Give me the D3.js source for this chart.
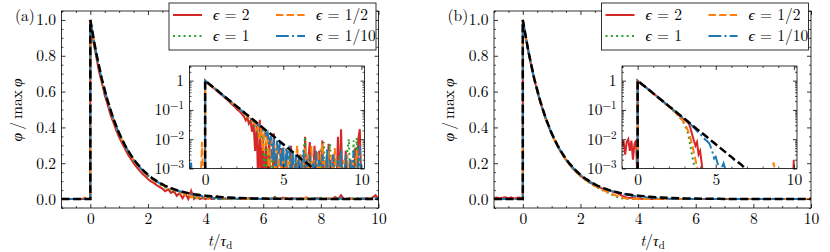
<!DOCTYPE html>
<html>
<head>
<meta charset="utf-8">
<script src="https://cdn.jsdelivr.net/npm/d3@7"></script>
<style>
body { margin: 0; background: #fff; }
</style>
</head>
<body>
<div id="chart"></div>
<script>
// sampling of the simulated curves (values below are phi/max phi in units of 1e-3)
var dt = 0.1;

// legend labels (epsilon values)
var epsLabels = ['2', '1', '1/2', '1/10'];

// panel (a): t = -1.0 ... -0.1
var redA_pre    = [0, 0, 0, 0, 0, 0, 0, 0, 0, 0];
var greenA_pre  = [0, 0, 0, 0, 0, 0, 0, 0, 0, 0];
var orangeA_pre = [0, 0, 0, 0, 0, 0, 0, 0, 8, 0];
var blueA_pre   = [0, 1.6, 0, 0, 0, 0, 0, 0, 0, 0];

// panel (a): t = 0.0 ... 10.0
var redA = [1000, 880, 800, 712, 650, 578, 528, 470, 428, 384,
	345, 312, 282, 250, 226, 200, 180, 160, 142, 128,
	112, 98, 90, 78, 68, 58, 44, 54, 34, 44,
	18, 34, 4, 30, 0, 46, 0, 14, 0, 6,
	0, 10, 0, 0, 16, 0, 3, 0, 0, 5,
	0, 0, 2, 0, 0, 6, 0, 0, 1.5, 0,
	0, 3, 0, 0, 12, 0, 2, 8, 0, 0,
	6, 0, 0, 4, 0, 9, 0, 2, 0, 7,
	0, 0, 3, 0, 0, 12, 0, 22, 0, 0,
	4, 0, 0, 2, 0, 0, 5, 0, 10, 22,
	0];
var greenA = [1000, 895, 810, 732, 660, 598, 540, 488, 440, 400,
	358, 326, 292, 266, 238, 216, 194, 176, 158, 143,
	126, 116, 102, 94, 82, 74, 64, 60, 50, 46,
	38, 34, 26, 24, 14, 20, 8, 14, 0, 10,
	0, 4, 0, 6, 0, 0, 2, 0, 3, 0,
	0, 2, 0, 0, 3, 0, 0, 1.5, 0, 0,
	2, 0, 0, 4, 12, 0, 0, 3, 0, 0,
	0, 2, 0, 0, 5, 0, 8, 0, 0, 3,
	7, 0, 0, 2, 0, 0, 3, 0, 0, 0,
	0, 4, 10, 0, 0, 9, 0, 11, 0, 3,
	0];
var orangeA = [1000, 900, 812, 736, 664, 602, 545, 493, 445, 403,
	362, 330, 296, 270, 242, 219, 197, 179, 160, 146,
	130, 118, 106, 96, 86, 78, 69, 63, 55, 50,
	44, 36, 35, 22, 28, 10, 26, 4, 20, 6,
	16, 0, 12, 3, 9, 0, 7, 0, 5, 0,
	3, 0, 5, 0, 2, 0, 4, 0, 2, 6,
	0, 3, 0, 2, 5, 0, 3, 0, 6, 0,
	2, 0, 4, 0, 3, 7, 0, 2, 0, 4,
	0, 3, 0, 5, 0, 2, 0, 4, 0, 2,
	0, 3, 0, 0, 2, 0, 0, 4, 0, 0,
	0];
var blueA = [1000, 903, 818, 740, 668, 605, 547, 495, 447, 405,
	365, 332, 299, 272, 245, 221, 200, 181, 163, 148,
	133, 120, 109, 98, 89, 80, 72, 65, 59, 53,
	48, 43, 39, 35, 31, 27, 25, 20, 21, 14,
	17, 6, 13, 2, 11, 0, 9, 3, 8, 0,
	7, 0, 5, 2, 6, 0, 4, 0, 3, 0,
	3, 0, 2, 4, 0, 2, 0, 3, 0, 1.5,
	0, 4, 0, 2, 0, 3, 0, 0, 5, 0,
	2, 0, 3, 0, 0, 2, 0, 4, 0, 0,
	3, 0, 0, 2, 0, 4, 0, 0, 2, 6,
	0];

// panel (b): t = -1.0 ... -0.1
var redB_pre    = [6, 9, 3, 8, 10, 4, 9, 2, 7, 9];
var greenB_pre  = [0, 0, 0, 0, 0, 0, 0, 0, 0, 0];
var orangeB_pre = [0, 0, 0, 0, 0, 0, 0, 0, 0, 0];
var blueB_pre   = [0, 0, 0, 0, 0, 0, 0, 0, 0, 0];

// panel (b): t = 0.0 ... 10.0
var redB = [1000, 905, 818, 740, 668, 604, 546, 494, 446, 404,
	364, 330, 297, 269, 243, 219, 198, 179, 161, 146,
	131, 118, 107, 96, 86, 77, 69, 62, 55, 49,
	48, 43, 38, 32, 22, 14, 9, 6, 8, 3,
	4, 1.5, 0.5, 0, 0, 0, 0, 0, 0, 0,
	0, 0, 0, 0, 0, 0, 0, 0, 0, 0,
	0, 0, 0, 0, 0, 0, 0, 0, 0, 0,
	0, 0, 0, 0, 0, 0, 0, 0, 0, 0,
	0, 0, 0, 0, 0, 0, 0, 0, 0, 0,
	0, 0, 0, 0, 0, 0, 0, 0, 0, 0,
	2];
var greenB = [1000, 903, 816, 738, 666, 602, 544, 492, 444, 402,
	362, 328, 295, 267, 241, 217, 196, 176, 158, 143,
	128, 115, 103, 92, 82, 72, 63, 55, 47, 40,
	32, 24, 17, 10, 5, 2.5, 1.4, 0.8, 0, 0,
	0, 0, 0, 0, 0, 0, 0, 0, 0, 0,
	0, 0, 0, 0, 0, 0, 0, 0, 0, 0,
	0, 0, 0, 0, 0, 0, 0, 0, 0, 0,
	0, 0, 0, 0, 0, 0, 0, 0, 0, 0,
	0, 0, 0, 0, 0, 0, 0, 0, 0, 0,
	0, 0, 0, 0, 0, 0, 0, 0, 0, 0,
	0];
var orangeB = [1000, 904, 817, 739, 667, 603, 545, 493, 445, 403,
	363, 329, 296, 268, 242, 218, 197, 177, 159, 144,
	129, 116, 104, 93, 83, 74, 65, 57, 49, 42,
	35, 28, 21, 15, 10, 6, 3.5, 2, 1.2, 0.6,
	0, 0, 0, 0, 0, 0, 0, 0, 0, 0,
	0, 0, 0, 0, 0, 0, 0, 0, 0, 0,
	0, 0, 0, 0, 0, 0, 0, 0, 0, 0,
	0, 0, 0, 0, 0, 0, 0, 0, 0, 0,
	0, 0, 0, 0, 0, 0, 0.6, 1.6, 0.8, 0,
	0, 0, 0, 0, 0, 0, 0, 0, 0, 0,
	0];
var blueB = [1000, 905, 818, 740, 669, 605, 548, 496, 448, 405,
	366, 332, 300, 272, 246, 222, 201, 182, 164, 149,
	134, 121, 110, 99, 90, 81, 73, 66, 60, 54,
	49, 44, 40, 36, 32, 28, 25, 22, 19, 17,
	15, 13, 11.5, 10, 9, 8, 7, 5, 3.5, 2.2,
	2.5, 1.6, 1.2, 0.9, 1.1, 1.5, 1.0, 0.6, 0, 0,
	0, 0, 0, 0, 0, 0, 0, 0, 0, 0,
	0, 0, 0, 0, 0, 0, 0, 0, 0, 0,
	0, 0, 0, 0, 0, 0, 0, 0, 0, 0,
	0, 0, 0, 0, 0, 0, 0, 0, 0, 0,
	0];

// reference exponential decay (black dashed), t = 0.0 ... 10.0 every 0.2
var refStep = 0.2;
var expRef = [1000, 819, 670, 549, 449, 368, 301, 247, 202, 165,
	135, 111, 91, 74, 61, 50, 41, 33, 27, 22,
	18.3, 15, 12.3, 10, 8.2, 6.7, 5.5, 4.5, 3.7, 3.0,
	2.5, 2.0, 1.7, 1.4, 1.1, 0.91, 0.75, 0.61, 0.5, 0.41,
	0.34, 0.27, 0.22, 0.18, 0.15, 0.12, 0.1, 0.08, 0.07, 0.06,
	0.05];

// line styles: red solid, green dotted, orange dashed, blue dash-dot
var styles = [
	{ color: '#d62728', dash: null },
	{ color: '#2ca02c', dash: '2,3.3' },
	{ color: '#ff7f0e', dash: '7.4,3.2' },
	{ color: '#1f77b4', dash: '12.8,3.2,2,3.2' }
];

var serif = '"Latin Modern Roman", "Liberation Serif", serif';
var fs = 15.5;

// build canvas
var width = 830,
	height = 252;

var svg = d3.select('#chart')
	.append('svg')
	.attr('width', width)
	.attr('height', height)
	.attr('font-family', serif);

function toPoints(pre, post) {
	var pts = pre.map((v, i) => [-1 + i * dt, v / 1000]);
	pts.push([0, 0]);
	post.forEach((v, i) => pts.push([i * dt, v / 1000]));
	return pts;
}

function refPoints() {
	var pts = [[-1, 0], [0, 0]];
	expRef.forEach((v, i) => pts.push([i * refStep, v / 1000]));
	return pts;
}

// inward ticks on all four sides
function frameAxes(g, x, y, o) {
	var b = y.range()[0], t = y.range()[1], l = x.range()[0], r = x.range()[1];
	var makers = [
		() => d3.axisBottom(x), () => d3.axisTop(x),
		() => d3.axisLeft(y), () => d3.axisRight(y)
	];
	makers.forEach(function(mk, k) {
		var horiz = k < 2;
		var tr = horiz ? 'translate(0,' + (k == 0 ? b : t) + ')'
			: 'translate(' + (k == 2 ? l : r) + ',0)';
		var fmt = (k == 0) ? o.xFmt : (k == 2) ? o.yFmt : null;
		// minor
		g.append('g').attr('transform', tr)
			.call(mk().tickValues(horiz ? o.xMinor : o.yMinor).tickSizeInner(-2).tickSizeOuter(0).tickFormat(''))
			.call(a => a.select('.domain').remove())
			.selectAll('line').attr('stroke-width', 0.7);
		// major
		var ag = g.append('g').attr('transform', tr)
			.call(mk().tickValues(horiz ? o.xMajor : o.yMajor).tickSizeInner(-4).tickSizeOuter(0)
				.tickPadding(horiz ? 5 : 5.5).tickFormat(fmt ? fmt : ''))
			.call(a => a.select('.domain').remove())
			.attr('font-family', serif).attr('font-size', o.fontSize);
		ag.selectAll('line').attr('stroke-width', 0.8);
		ag.selectAll('text').attr('font-family', serif);
		if (fmt && o.post && !horiz) ag.selectAll('text').each(o.post);
	});
	g.append('rect')
		.attr('x', l).attr('y', t)
		.attr('width', r - l).attr('height', b - t)
		.attr('fill', 'none').attr('stroke', '#000').attr('stroke-width', 0.8);
}

function drawPanel(ox, tag, pres, posts, id) {
	var x = d3.scaleLinear().domain([-1, 10]).range([61.5 + ox, 378.5 + ox]);
	var y = d3.scaleLinear().domain([-0.05, 1.05]).range([208, 11]);
	var g = svg.append('g');

	g.append('clipPath').attr('id', 'clip' + id)
		.append('rect').attr('x', x.range()[0]).attr('y', 11)
		.attr('width', x.range()[1] - x.range()[0]).attr('height', 197);

	var line = d3.line().x(d => x(d[0])).y(d => y(d[1]));
	var layer = g.append('g').attr('clip-path', 'url(#clip' + id + ')');
	posts.forEach(function(post, k) {
		layer.append('path')
			.datum(toPoints(pres[k], post))
			.attr('d', line)
			.attr('fill', 'none')
			.attr('stroke', styles[k].color)
			.attr('stroke-width', 2)
			.attr('stroke-dasharray', styles[k].dash);
	});
	layer.append('path')
		.datum(refPoints())
		.attr('d', line)
		.attr('fill', 'none')
		.attr('stroke', '#000')
		.attr('stroke-width', 2.5)
		.attr('stroke-dasharray', '8,3.5');

	frameAxes(g, x, y, {
		xMajor: [0, 2, 4, 6, 8, 10],
		xMinor: d3.range(-1, 10.01, 0.5).filter(v => Math.abs(v % 2) > 1e-6),
		yMajor: [0, 0.2, 0.4, 0.6, 0.8, 1.0],
		yMinor: d3.range(-0.05, 1.06, 0.05).filter(v => Math.abs(Math.round(v * 20) % 4) != 0),
		xFmt: d3.format('d'),
		yFmt: d3.format('.1f'),
		fontSize: fs
	});

	// axis labels
	var xl = g.append('text')
		.attr('x', (x.range()[0] + x.range()[1]) / 2).attr('y', 246)
		.attr('text-anchor', 'middle').attr('font-size', fs);
	xl.append('tspan').attr('font-style', 'italic').text('t');
	xl.append('tspan').text('/');
	xl.append('tspan').attr('font-style', 'italic').text('τ');
	xl.append('tspan').attr('font-size', 11).attr('dy', 3).text('d');

	var yl = g.append('text')
		.attr('transform', 'translate(' + (x.range()[0] - 40) + ',110) rotate(-90)')
		.attr('text-anchor', 'middle').attr('font-size', fs);
	yl.append('tspan').attr('font-style', 'italic').text('φ');
	yl.append('tspan').text('\u2009/\u2009max\u2009');
	yl.append('tspan').attr('font-style', 'italic').text('φ');

	g.append('text').attr('x', ox + 15).attr('y', 21).attr('font-size', fs).text(tag);

	// inset (log scale)
	var ix = d3.scaleLinear().domain([-1, 10.2]).range([189.5 + ox, 364.5 + ox]);
	var iy = d3.scaleLog().domain([1e-3, Math.pow(10, 0.5)]).range([168.5, 66]);
	var ig = svg.append('g');
	ig.append('rect').attr('x', ix.range()[0]).attr('y', 66)
		.attr('width', ix.range()[1] - ix.range()[0]).attr('height', 102.5)
		.attr('fill', '#fff');
	ig.append('clipPath').attr('id', 'iclip' + id)
		.append('rect').attr('x', ix.range()[0]).attr('y', 66)
		.attr('width', ix.range()[1] - ix.range()[0]).attr('height', 102.5);

	var iline = d3.line().x(d => ix(d[0])).y(d => iy(Math.max(d[1], 2e-4)));
	var ilayer = ig.append('g').attr('clip-path', 'url(#iclip' + id + ')');
	posts.forEach(function(post, k) {
		ilayer.append('path')
			.datum(toPoints(pres[k], post))
			.attr('d', iline)
			.attr('fill', 'none')
			.attr('stroke', styles[k].color)
			.attr('stroke-width', 2)
			.attr('stroke-dasharray', styles[k].dash);
	});
	ilayer.append('path')
		.datum(refPoints())
		.attr('d', iline)
		.attr('fill', 'none')
		.attr('stroke', '#000')
		.attr('stroke-width', 2.5)
		.attr('stroke-dasharray', '8,3.5');

	var logMinor = [];
	[-3, -2, -1, 0].forEach(e => d3.range(2, 10).forEach(m => {
		var v = m * Math.pow(10, e);
		if (v < Math.pow(10, 0.5)) logMinor.push(v);
	}));
	var supLabels = { '0.001': '−3', '0.01': '−2', '0.1': '−1' };
	frameAxes(ig, ix, iy, {
		xMajor: [0, 5, 10],
		xMinor: d3.range(-1, 11, 1).filter(v => v % 5 != 0),
		yMajor: [1e-3, 1e-2, 1e-1, 1],
		yMinor: logMinor,
		xFmt: d3.format('d'),
		yFmt: d => d == 1 ? '1' : '10',
		fontSize: fs,
		post: function(d) {
			if (d == 1) return;
			d3.select(this).append('tspan')
				.attr('font-size', 11).attr('dy', -6).text(supLabels[String(d)]);
		}
	});

	// legend
	var lx = 61.5 + ox + 107.5;
	var lg = svg.append('g');
	lg.append('rect').attr('x', lx).attr('y', 3).attr('width', 207).attr('height', 47)
		.attr('fill', '#fff').attr('stroke', '#000').attr('stroke-width', 0.8);
	var slots = [[0, 15], [0, 36], [103, 15], [103, 36]];
	epsLabels.forEach(function(lab, k) {
		var sx = lx + 4 + slots[k][0], sy = slots[k][1];
		lg.append('line').attr('x1', sx).attr('x2', sx + 29).attr('y1', sy).attr('y2', sy)
			.attr('stroke', styles[k].color).attr('stroke-width', 2)
			.attr('stroke-dasharray', styles[k].dash);
		var tx = lg.append('text').attr('x', sx + 40).attr('y', sy + 5).attr('font-size', fs);
		tx.append('tspan').attr('font-style', 'italic').text('ϵ');
		tx.append('tspan').text(' = ' + lab);
	});
}

drawPanel(0, '(a)', [redA_pre, greenA_pre, orangeA_pre, blueA_pre], [redA, greenA, orangeA, blueA], 'a');
drawPanel(432.5, '(b)', [redB_pre, greenB_pre, orangeB_pre, blueB_pre], [redB, greenB, orangeB, blueB], 'b');
</script>
</body>
</html>
